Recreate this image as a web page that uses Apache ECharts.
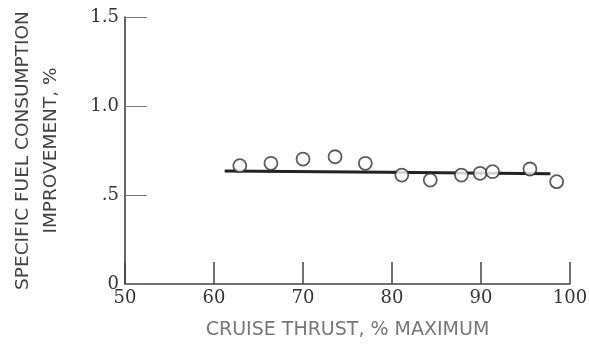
<!DOCTYPE html>
<html>
<head>
<meta charset="utf-8">
<script src="https://cdn.jsdelivr.net/npm/echarts@6/dist/echarts.min.js"></script>
<style>
  html, body { margin: 0; padding: 0; background: #fff; }
  #eChart { width: 589px; height: 350px; }
</style>
</head>
<body>
<div id="eChart"></div>
<script>
// measured points, open circles
const thrust = [62.9, 66.4, 70.0, 73.6, 77.0, 81.1, 84.3, 87.8, 89.9, 91.3, 95.5, 98.5];
const sfcImprovement = [0.665, 0.678, 0.702, 0.715, 0.678, 0.612, 0.584, 0.612, 0.622, 0.631, 0.646, 0.575];

// faired line through the data
const fairThrust = [61.2, 79.5, 97.8];
const fairValue = [0.635, 0.628, 0.62];

// tick labels as printed on the figure
const yTickLabels = { 0: "0", 0.5: ".5", 1: "1.0", 1.5: "1.5" };
const xTickLabels = { 50: "50", 60: "60", 70: "70", 80: "80", 90: "90", 100: "100" };

const tickFont = { fontFamily: "DejaVu Serif", fontSize: 18, color: "#333" };

function makeChart({ elementId = "eChart" }) {
  const chart = echarts.init(document.getElementById(elementId), null, {
    renderer: "canvas",
  });
  chart.setOption({
    animation: false,
    backgroundColor: "#fff",
    grid: { left: 125, right: 19, top: 17, bottom: 66, outerBoundsMode: "none" },
    xAxis: {
      type: "value",
      min: 50,
      max: 100,
      interval: 10,
      name: "CRUISE THRUST, % MAXIMUM",
      nameLocation: "middle",
      nameGap: 37,
      nameTextStyle: { fontFamily: "DejaVu Sans", fontSize: 19, color: "#777" },
      axisLine: { lineStyle: { color: "#444", width: 1.5 } },
      axisTick: { inside: true, length: 22, lineStyle: { color: "#444", width: 1.5 } },
      axisLabel: { ...tickFont, margin: 5, formatter: (v) => xTickLabels[v] || "" },
      splitLine: { show: false },
    },
    yAxis: {
      type: "value",
      min: 0,
      max: 1.5,
      interval: 0.5,
      name: "SPECIFIC FUEL CONSUMPTION\nIMPROVEMENT, %",
      nameLocation: "middle",
      nameRotate: 90,
      nameGap: 60,
      nameTextStyle: {
        fontFamily: "DejaVu Sans",
        fontSize: 18.5,
        lineHeight: 28,
        color: "#444",
        align: "center",
      },
      axisLine: { lineStyle: { color: "#333", width: 1.5 } },
      axisTick: { inside: true, length: 22, lineStyle: { color: "#777", width: 1 } },
      axisLabel: { ...tickFont, margin: 6, formatter: (v) => yTickLabels[v] || "" },
      splitLine: { show: false },
    },
    series: [
      {
        type: "line",
        data: fairThrust.map((x, i) => [x, fairValue[i]]),
        symbol: "none",
        lineStyle: { color: "#222", width: 3 },
        z: 2,
      },
      {
        type: "scatter",
        data: thrust.map((x, i) => [x, sfcImprovement[i]]),
        symbol: "circle",
        symbolSize: 13,
        itemStyle: { color: "#fff", borderColor: "#333", borderWidth: 1.8 },
        z: 3,
      },
    ],
  });
  return chart;
}

makeChart({ elementId: "eChart" });
</script>
</body>
</html>
